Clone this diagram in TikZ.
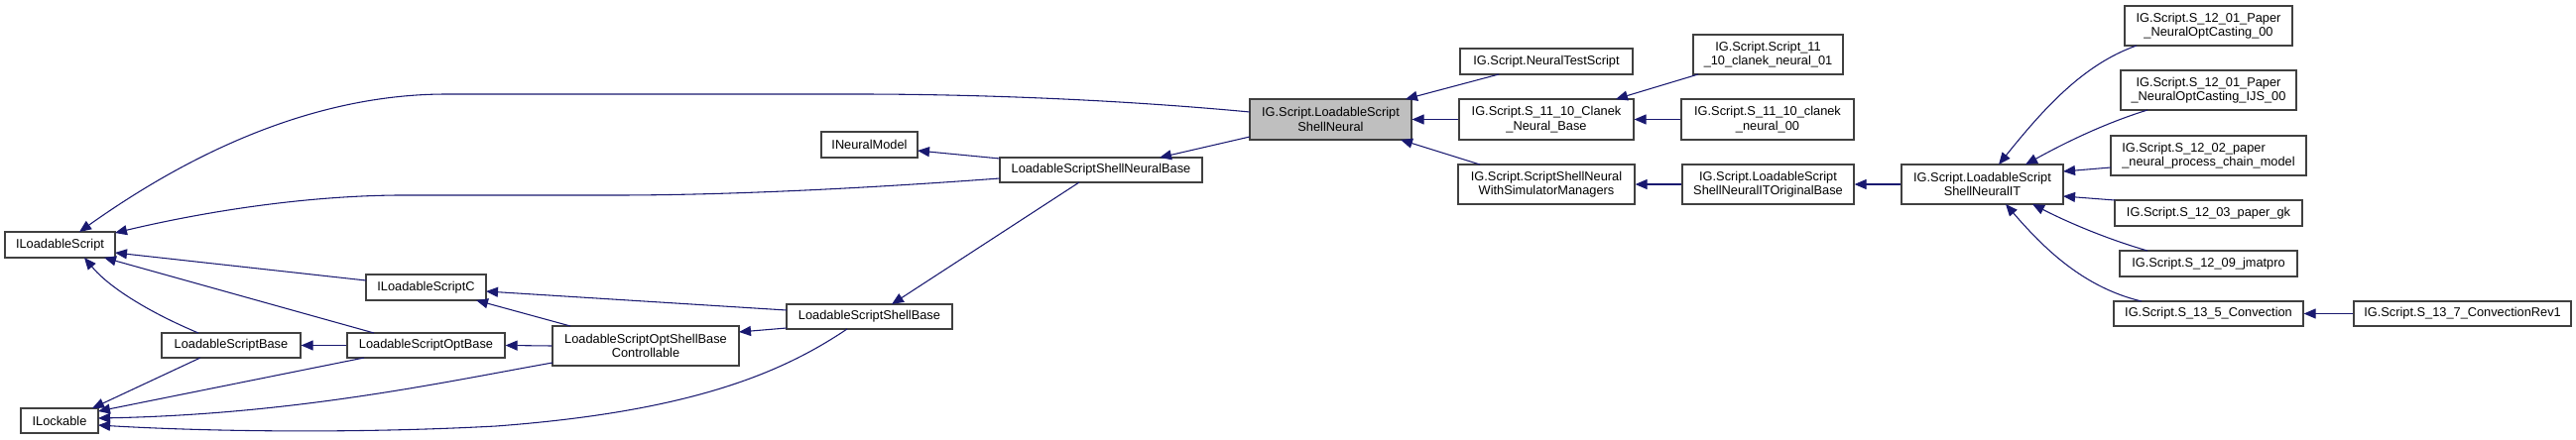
\documentclass[tikz,border=0pt]{standalone}
\usepackage{fontspec}
\setmainfont{Liberation Sans}
\usetikzlibrary{arrows.meta,calc}
\definecolor{edgeblue}{HTML}{191970}
\definecolor{nodegray}{HTML}{BFBFBF}
\definecolor{boxline}{HTML}{404040}
\begin{document}
\begin{tikzpicture}[x=0.75pt,y=-0.75pt,
  cls/.style={draw=boxline, line width=0.9pt, rectangle, inner sep=0pt, align=center, text=black,
    font=\fontsize{9.6}{10.9}\selectfont},
  wh/.style 2 args={minimum width=#1*0.75pt, minimum height=#2*0.75pt},
  focus/.style={fill=nodegray},
  edge/.style={draw=edgeblue, line width=0.8pt, -{Triangle[length=9pt,width=7.5pt]}}]
\useasboundingbox (0,0) rectangle (2597,443);

% nodes
\node[cls, wh={111}{26}] (ils) at (60.5,247) {ILoadableScript};
\node[cls, wh={78}{25}] (ilk) at (60,424.5) {ILockable};
\node[cls, wh={140}{25}] (lsb) at (233,348.5) {LoadableScriptBase};
\node[cls, wh={159}{25}] (lsob) at (429.5,348.5) {LoadableScriptOptBase};
\node[cls, wh={121}{26}] (ilsc) at (429.5,290) {ILoadableScriptC};
\node[cls, wh={188}{40}] (lsosbc) at (651,349) {LoadableScriptOptShellBase\\Controllable};
\node[cls, wh={167}{25}] (lssb) at (876.5,319.5) {LoadableScriptShellBase};
\node[cls, wh={97}{26}] (inm) at (876.5,146) {INeuralModel};
\node[cls, wh={204}{25}] (lssnb) at (1110,171.5) {LoadableScriptShellNeuralBase};
\node[cls, focus, wh={163}{41}] (main) at (1341.5,120.5) {IG.Script.LoadableScript\\ShellNeural};
\node[cls, wh={174}{26}] (nts) at (1559,62) {IG.Script.NeuralTestScript};
\node[cls, wh={176}{41}] (cbase) at (1559,120.5) {IG.Script.S\_11\_10\_Clanek\\\_Neural\_Base};
\node[cls, wh={178}{40}] (ssn) at (1559,186) {IG.Script.ScriptShellNeural\\WithSimulatorManagers};
\node[cls, wh={151}{40}] (c01) at (1782.5,55) {IG.Script.Script\_11\\\_10\_clanek\_neural\_01};
\node[cls, wh={174}{41}] (c00) at (1782,120.5) {IG.Script.S\_11\_10\_clanek\\\_neural\_00};
\node[cls, wh={173}{40}] (itorig) at (1782.5,186) {IG.Script.LoadableScript\\ShellNeuralITOriginalBase};
\node[cls, wh={163}{40}] (lssnit) at (1998.5,186) {IG.Script.LoadableScript\\ShellNeuralIT};
\node[cls, wh={169}{40}] (p00) at (2226.5,26) {IG.Script.S\_12\_01\_Paper\\\_NeuralOptCasting\_00};
\node[cls, wh={177}{40}] (ijs) at (2226.5,91) {IG.Script.S\_12\_01\_Paper\\\_NeuralOptCasting\_IJS\_00};
\node[cls, wh={197}{40}, align=left] (chain) at (2226.5,157) {IG.Script.S\_12\_02\_paper\\\_neural\_process\_chain\_model};
\node[cls, wh={189}{26}] (gk) at (2226.5,215) {IG.Script.S\_12\_03\_paper\_gk};
\node[cls, wh={179}{26}] (jmat) at (2226.5,266) {IG.Script.S\_12\_09\_jmatpro};
\node[cls, wh={191}{25}] (conv) at (2226.5,316.5) {IG.Script.S\_13\_5\_Convection};
\node[cls, wh={219}{25}] (convrev) at (2482.5,316.5) {IG.Script.S\_13\_7\_ConvectionRev1};

% edges (derived -> base)
\draw[edge] ($(main.center)+(-81.5,-7.5)$) .. controls (1100,98) and (950,95) .. (866,95) -- (450,95)
  .. controls (300,95) and (170,170) .. ($(ils.center)+(19.5,-13)$);
\draw[edge] ($(lssnb.center)+(-102,8.5)$) .. controls (900,188) and (750,197) .. (620,197) -- (400,197)
  .. controls (300,198) and (200,215) .. ($(ils.center)+(55.5,-12)$);
\draw[edge] ($(ilsc.center)+(-60.5,-7)$) -- ($(ils.center)+(55.5,8)$);
\draw[edge] ($(lsob.center)+(-52.5,-12.5)$) -- ($(ils.center)+(44.5,13)$);
\draw[edge] ($(lsb.center)+(-33,-12.5)$) .. controls (150,315) and (110,290) .. ($(ils.center)+(24.5,13)$);
\draw[edge] ($(lsb.center)+(-31,12.5)$) -- ($(ilk.center)+(33,-12.5)$);
\draw[edge] ($(lsob.center)+(-62.5,12.5)$) -- ($(ilk.center)+(39,-9.5)$);
\draw[edge] ($(lsosbc.center)+(-94,17)$) .. controls (450,385) and (300,418) .. ($(ilk.center)+(39,-2.5)$);
\draw[edge] ($(lssb.center)+(-22.5,12.5)$) .. controls (790,375) and (700,415) .. (500,430)
  .. controls (350,438) and (200,435) .. ($(ilk.center)+(39,4.5)$);
\draw[edge] (lsob.west) -- (lsb.east);
\draw[edge] (lsosbc.west) -- (lsob.east);
\draw[edge] ($(lsosbc.center)+(-76,-20)$) -- ($(ilsc.center)+(50.5,13)$);
\draw[edge] ($(lssb.center)+(-83.5,-6.5)$) -- ($(ilsc.center)+(60.5,4)$);
\draw[edge] ($(lssb.center)+(-83.5,11.5)$) -- ($(lsosbc.center)+(94,-14)$);
\draw[edge] ($(lssnb.center)+(-102,-11.5)$) -- ($(inm.center)+(48.5,6)$);
\draw[edge] ($(lssnb.center)+(-22,12.5)$) -- ($(lssb.center)+(22.5,-12.5)$);
\draw[edge] ($(main.center)+(-81.5,17.5)$) -- ($(lssnb.center)+(59,-12.5)$);
\draw[edge] ($(nts.center)+(-48,13)$) -- ($(main.center)+(75.5,-20.5)$);
\draw[edge] (cbase.west) -- (main.east);
\draw[edge] ($(ssn.center)+(-67,-20)$) -- ($(main.center)+(70.5,20.5)$);
\draw[edge] ($(c01.center)+(-70.5,20)$) -- ($(cbase.center)+(70,-20.5)$);
\draw[edge] (c00.west) -- (cbase.east);
\draw[edge] (itorig.west) -- (ssn.east);
\draw[edge] (lssnit.west) -- (itorig.east);
\draw[edge] ($(p00.center)+(-72.5,20)$) .. controls (2100,65) and (2060,110) .. ($(lssnit.center)+(16.5,-20)$);
\draw[edge] ($(ijs.center)+(-61.5,20)$) .. controls (2120,125) and (2080,145) .. ($(lssnit.center)+(43.5,-20)$);
\draw[edge] ($(chain.center)+(-98.5,12)$) -- ($(lssnit.center)+(81.5,-13)$);
\draw[edge] ($(gk.center)+(-94.5,-13)$) -- ($(lssnit.center)+(81.5,12)$);
\draw[edge] ($(jmat.center)+(-61.5,-13)$) .. controls (2120,240) and (2080,222) .. ($(lssnit.center)+(50.5,20)$);
\draw[edge] ($(conv.center)+(-67.5,-12.5)$) .. controls (2100,290) and (2060,250) .. ($(lssnit.center)+(23.5,20)$);
\draw[edge] (convrev.west) -- (conv.east);
\end{tikzpicture}
\end{document}
